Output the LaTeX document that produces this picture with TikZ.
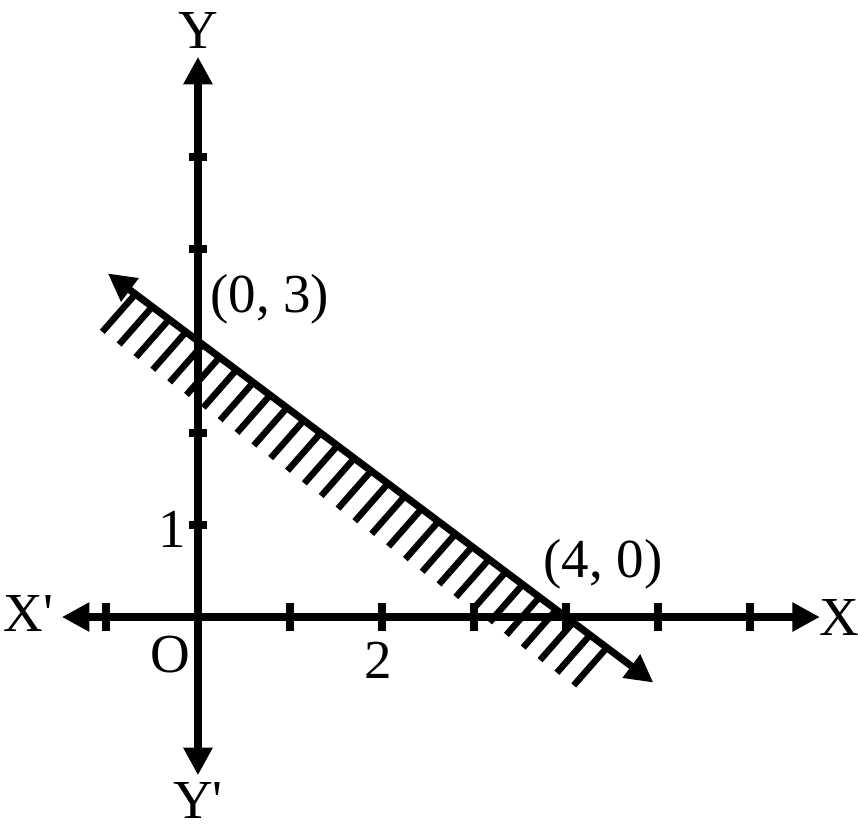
\documentclass[tikz,border=0pt]{standalone}
\usepackage{fontspec}
\setmainfont{Liberation Serif}
\usetikzlibrary{arrows.meta}

\begin{document}
\begin{tikzpicture}[
    axis/.style={line width=2.2pt, -{Triangle[length=0.3cm, width=0.3cm]}},
    tick/.style={line width=2.2pt},
    hatch/.style={line width=2pt},
    lbl/.style={font=\fontsize{17}{20}\selectfont, inner sep=0pt}
]
\useasboundingbox (-2.152,-2.326) rectangle (7.174,6.707);
% axes
\coordinate (O) at (0,0);
\coordinate (xl) at (-1.48,0);
\coordinate (xr) at (6.76,0);
\coordinate (yt) at (0,6.09);
\coordinate (yb) at (0,-1.72);
\draw[axis] (O) -- (xr);
\draw[axis] (O) -- (xl);
\draw[axis] (O) -- (yt);
\draw[axis] (O) -- (yb);
% ticks
\foreach \x in {-1,1,2,3,4,5,6}
    \draw[tick] (\x,-0.15) -- (\x,0.15);
\foreach \y in {1,2,4,5}
    \draw[tick] (-0.1,\y) -- (0.1,\y);
% line 3x + 4y = 12
\coordinate (A) at (0,3);
\coordinate (B) at (4,0);
\coordinate (p) at (-0.98,3.735);
\coordinate (q) at (4.95,-0.7125);
\foreach \t in {0,...,28}
    \draw[hatch] ({-0.68+0.183*\t},{3-0.75*(-0.68+0.183*\t)}) -- ++(-0.36,-0.41);
\draw[axis] (A) -- (p);
\draw[axis] (A) -- (q);
% labels
\node[lbl] (ly) at (0,6.38) {Y};
\node[lbl] (lyy) at (0,-1.99) {Y\textquotesingle};
\node[lbl] (lxx) at (-1.84,0.04) {X\textquotesingle};
\node[lbl] (lx) at (6.97,0) {X};
\node[lbl] (lo) at (-0.3,-0.41) {O};
\node[lbl] (l2) at (1.96,-0.47) {2};
\node[lbl] (l1) at (-0.28,0.95) {1};
\node[lbl] (la) at (0.78,3.45) {(0, 3)};
\node[lbl] (lb) at (4.4,0.57) {(4, 0)};
\end{tikzpicture}
\end{document}
